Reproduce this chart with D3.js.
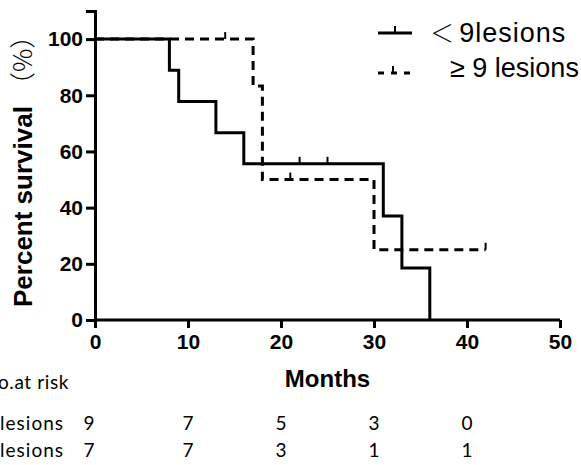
<!DOCTYPE html>
<html>
<head>
<meta charset="utf-8">
<script src="https://cdn.jsdelivr.net/npm/d3@7"></script>
<style>
  body { margin: 0; background: #fff; }
  svg { display: block; }
</style>
</head>
<body>
<svg id="chart" width="581" height="465"></svg>
<script>
// survival steps, < 9 lesions
var lessTimes = [0, 8, 9, 13, 16, 31, 33, 36];
var lessSurv = [100, 88.9, 77.8, 66.7, 55.6, 37.0, 18.5, 0];
var lessCensor = [22, 25];

// survival steps, >= 9 lesions
var moreTimes = [0, 17, 18, 30, 42];
var moreSurv = [100, 83.3, 50, 25, 25];
var moreCensor = [14, 21, 42];

var xTicks = [0, 10, 20, 30, 40, 50];
var yTicks = [0, 20, 40, 60, 80, 100];

// number at risk table
var riskMonths = [0, 10, 20, 30, 40];
var riskLess = [9, 7, 5, 3, 0];
var riskMore = [7, 7, 3, 1, 1];
var legendLabels = ['9lesions', '9 lesions'];

var svg = d3.select('#chart');
var arial = 'Liberation Sans, Arial, sans-serif';
var tableFont = 'Lato, Open Sans, sans-serif';

var x = d3.scaleLinear().domain([0, 50]).range([95, 560]);
var y = d3.scaleLinear().domain([0, 110]).range([320, 11]);

// step value at a given time
function survAt(times, surv, t) {
    var i = d3.bisectRight(times, t) - 1;
    return surv[Math.max(0, i)];
}

var line = d3.line()
    .x(function (d) { return x(d[0]); })
    .y(function (d) { return y(d[1]); })
    .curve(d3.curveStepAfter);

// axes
var xAxis = d3.axisBottom(x).tickValues(xTicks).tickSize(8).tickPadding(6);
var yAxis = d3.axisLeft(y).tickValues(yTicks).tickSize(9).tickPadding(3);

var gx = svg.append('g')
    .attr('transform', 'translate(0,' + y(0) + ')')
    .call(xAxis);
var gy = svg.append('g')
    .attr('transform', 'translate(' + x(0) + ',0)')
    .call(yAxis);

[gx, gy].forEach(function (g) {
    g.select('.domain').attr('stroke', '#000').attr('stroke-width', 3);
    g.selectAll('.tick line').attr('stroke', '#000').attr('stroke-width', 3);
    g.selectAll('.tick text')
        .attr('fill', '#000')
        .attr('font-family', arial)
        .attr('font-weight', 'bold')
        .attr('font-size', 21);
});
gx.select('.domain').attr('d', 'M' + x(0) + ',0H' + x(50));

// curves
svg.append('path')
    .datum(moreTimes.map(function (t, i) { return [t, moreSurv[i]]; }))
    .attr('d', line)
    .attr('fill', 'none')
    .attr('stroke', '#000')
    .attr('stroke-width', 3)
    .attr('stroke-dasharray', '9,6');

svg.append('path')
    .datum(lessTimes.map(function (t, i) { return [t, lessSurv[i]]; }))
    .attr('d', line)
    .attr('fill', 'none')
    .attr('stroke', '#000')
    .attr('stroke-width', 3);

// censor ticks
function censorTicks(list, times, surv) {
    svg.append('g')
        .selectAll('line')
        .data(list)
        .enter()
        .append('line')
        .attr('x1', function (d) { return x(d); })
        .attr('x2', function (d) { return x(d); })
        .attr('y1', function (d) { return y(survAt(times, surv, d)); })
        .attr('y2', function (d) { return y(survAt(times, surv, d)) - 7; })
        .attr('stroke', '#000')
        .attr('stroke-width', 2);
}
censorTicks(lessCensor, lessTimes, lessSurv);
censorTicks(moreCensor, moreTimes, moreSurv);

// axis titles
svg.append('text')
    .attr('x', (x(0) + x(50)) / 2)
    .attr('y', 387)
    .attr('text-anchor', 'middle')
    .attr('font-family', arial)
    .attr('font-weight', 'bold')
    .attr('font-size', 24)
    .text('Months');

var yt = svg.append('text')
    .attr('transform', 'translate(32,307) rotate(-90)')
    .attr('font-family', arial)
    .attr('font-size', 26);
yt.append('tspan').attr('font-weight', 'bold').text('Percent survival');
yt.append('tspan')
    .attr('font-family', 'Noto Sans CJK SC')
    .attr('font-weight', 300)
    .attr('font-size', 26)
    .attr('dx', 8)
    .text('（%）');

// legend
var leg = svg.append('g');
leg.append('line').attr('x1', 378).attr('x2', 412).attr('y1', 33).attr('y2', 33)
    .attr('stroke', '#000').attr('stroke-width', 3);
leg.append('line').attr('x1', 395).attr('x2', 395).attr('y1', 33).attr('y2', 26)
    .attr('stroke', '#000').attr('stroke-width', 2);
leg.append('line').attr('x1', 378).attr('x2', 412).attr('y1', 73).attr('y2', 73)
    .attr('stroke', '#000').attr('stroke-width', 3).attr('stroke-dasharray', '6,7');
leg.append('line').attr('x1', 393).attr('x2', 393).attr('y1', 73).attr('y2', 66)
    .attr('stroke', '#000').attr('stroke-width', 2);

var l1 = leg.append('text').attr('x', 430).attr('y', 42)
    .attr('font-family', arial).attr('font-size', 27);
l1.append('tspan').attr('font-family', 'Noto Sans CJK SC').attr('font-weight', 300)
    .attr('font-size', 24).text('＜ ');
l1.append('tspan').attr('letter-spacing', 1).text(legendLabels[0]);

leg.append('text').attr('x', 450).attr('y', 77)
    .attr('font-family', arial).attr('font-size', 27)
    .text('≥ ' + legendLabels[1]);

// number at risk
svg.append('text')
    .attr('x', 69).attr('y', 389)
    .attr('text-anchor', 'end')
    .attr('font-family', tableFont)
    .attr('font-size', 19)
    .attr('letter-spacing', 0.6)
    .text('No.at risk');

var rows = [
    {label: '<9 lesions', values: riskLess, y: 430},
    {label: '≥9 lesions', values: riskMore, y: 457}
];
rows.forEach(function (r) {
    svg.append('text')
        .attr('x', 64).attr('y', r.y)
        .attr('text-anchor', 'end')
        .attr('font-family', tableFont)
        .attr('font-size', 19)
        .attr('letter-spacing', 1)
        .text(r.label);
    svg.append('g')
        .selectAll('text')
        .data(r.values)
        .enter()
        .append('text')
        .attr('x', function (d, i) { return x(riskMonths[i]) - (i === 0 ? 6 : 0); })
        .attr('y', r.y)
        .attr('text-anchor', 'middle')
        .attr('font-family', tableFont)
        .attr('font-size', 19)
        .text(function (d) { return d; });
});
</script>
</body>
</html>
